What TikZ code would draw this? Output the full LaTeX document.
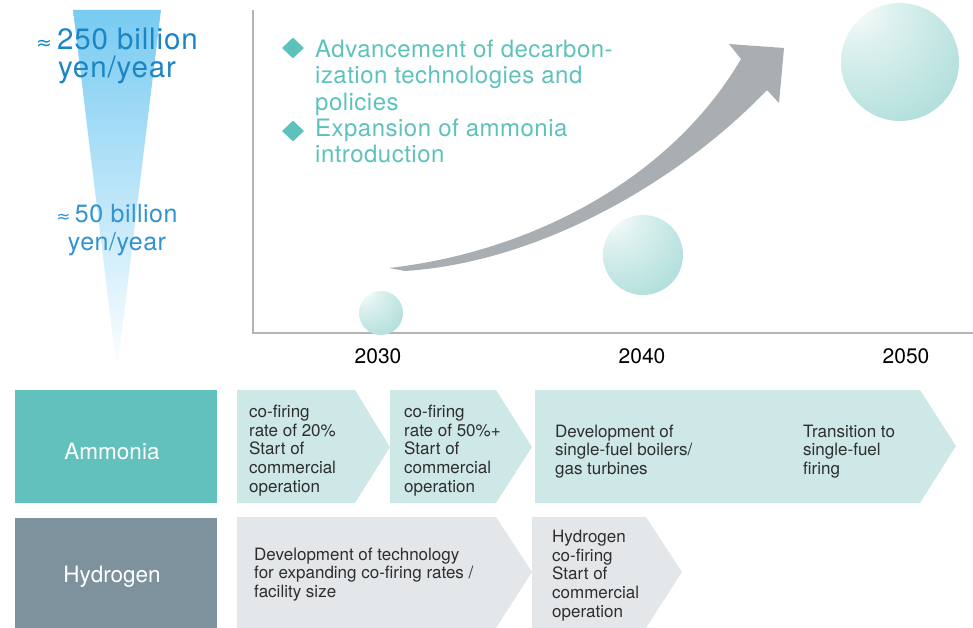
\documentclass[tikz,border=0pt]{standalone}
\usepackage{fontspec}
\setmainfont{TeX Gyre Heros}
\newfontfamily\symfont{DejaVu Sans}
\usetikzlibrary{shapes.geometric}

\definecolor{triTop}{HTML}{78CBF2}
\definecolor{blueDark}{HTML}{1B85C5}
\definecolor{blueMid}{HTML}{3193CF}
\definecolor{tealText}{HTML}{5EC2BC}
\definecolor{tealBox}{HTML}{62C1BD}
\definecolor{tealLight}{HTML}{CDE8E6}
\definecolor{grayBox}{HTML}{7D929D}
\definecolor{grayLight}{HTML}{E3E7E9}
\definecolor{arrowGray}{HTML}{A8AEB2}
\definecolor{axisGray}{HTML}{B4B4B4}
\definecolor{txtGray}{HTML}{2E2E2E}
\definecolor{sphHi}{HTML}{DDF1EF}
\definecolor{sphMid}{HTML}{ACDDD9}
\definecolor{sphEdge}{HTML}{7CCBC6}

% glossy teal sphere, highlight towards the upper left
\pgfdeclareradialshading{bubble}{\pgfpoint{-22bp}{27bp}}{%
  color(0bp)=(white); color(16bp)=(sphHi);
  color(48bp)=(sphMid); color(85bp)=(sphEdge); color(100bp)=(sphEdge)}

\begin{document}
\begin{tikzpicture}[x=1pt,y=-1pt,
  % multi-line nodes: the base anchor sits on the last line
  chevtext/.style={anchor=base west, align=left, inner sep=0pt,
    text=txtGray, font=\fontsize{17}{18.7}\selectfont},
  rowlabel/.style={anchor=base, inner sep=0pt, text=white,
    font=\fontsize{22.5}{24}\selectfont},
  yearlabel/.style={anchor=base, inner sep=0pt, text=black,
    font=\fontsize{21}{22}\selectfont},
  bullettext/.style={anchor=base west, align=left, inner sep=0pt,
    text=tealText, font=\fontsize{24}{26.5}\selectfont\addfontfeature{LetterSpace=2}},
  bulletmark/.style={diamond, fill=tealText, minimum width=22pt,
    minimum height=21pt, inner sep=0pt},
  sphere/.style={shading=bubble}
]
\useasboundingbox (0,0) rectangle (973,628);

% cost wedge
\shade[top color=triTop, bottom color=white] (73,10) -- (161,10) -- (117,372) -- cycle;

\node[anchor=base, align=center, inner sep=0pt, text=blueDark,
      font=\fontsize{29.5}{27.5}\selectfont\addfontfeature{LetterSpace=3}] (cost250) at (117,77.5)
  {{\symfont\fontsize{19}{19}\selectfont ≈}\,250 billion\\yen/year};
\node[anchor=base, align=center, inner sep=0pt, text=blueMid,
      font=\fontsize{25}{28}\selectfont\addfontfeature{LetterSpace=2}] (cost50) at (117,250)
  {{\symfont\fontsize{17}{17}\selectfont ≈}\,50 billion\\yen/year};

% axes
\draw[axisGray, line width=1.5pt] (253,10) -- (253,333) -- (973,333);

% growth spheres
\shade[sphere] (381,313) circle[radius=22];
\shade[sphere] (643,255) circle[radius=40];
\shade[sphere] (900,62) circle[radius=59];

% sweeping growth arrow
\fill[arrowGray] (389,268) .. controls (530,252) and (670,180) .. (741,59)
  -- (729,44) -- (784,48) -- (779,103) -- (767,90)
  .. controls (685,176) and (545,262) .. (405,271) -- cycle;

% bullet list
\node[bulletmark] (d1) at (293,48) {};
\node[bullettext] (b1) at (315,110.5) {Advancement of decarbon-\\ization technologies and\\policies};
\node[bulletmark] (d2) at (293,131) {};
\node[bullettext] (b2) at (315,163) {Expansion of ammonia\\introduction};

% years
\node[yearlabel] (y2030) at (378,363) {2030};
\node[yearlabel] (y2040) at (642,363) {2040};
\node[yearlabel] (y2050) at (906,363) {2050};

% row headers
\fill[tealBox] (15,390) rectangle (217,503);
\node[rowlabel] (ammonia) at (112,459) {Ammonia};
\fill[grayBox] (15,518) rectangle (217,628);
\node[rowlabel] (hydrogen) at (112,582) {Hydrogen};

% ammonia milestones
\fill[tealLight] (237,390) -- (355,390) -- (390,447) -- (355,503) -- (237,503) -- cycle;
\fill[tealLight] (390,390) -- (496,390) -- (532,447) -- (496,503) -- (390,503) -- cycle;
\fill[tealLight] (535,390) -- (920,390) -- (956,446) -- (920,503) -- (535,503) -- cycle;
\node[chevtext] (a1) at (249,492.3) {co-firing\\rate of 20\%\\Start of\\commercial\\operation};
\node[chevtext] (a2) at (404,492.3) {co-firing\\rate of 50\%+\\Start of\\commercial\\operation};
\node[chevtext] (a3) at (555,474.4) {Development of\\single-fuel boilers/\\gas turbines};
\node[chevtext] (a4) at (803,474.4) {Transition to\\single-fuel\\firing};

% hydrogen milestones
\fill[grayLight] (237,517) -- (496,517) -- (532,572) -- (496,628) -- (237,628) -- cycle;
\fill[grayLight] (532,517) -- (646,517) -- (682,572) -- (646,628) -- (532,628) -- cycle;
\node[chevtext] (h1) at (254,597.4) {Development of technology\\for expanding co-firing rates /\\facility size};
\node[chevtext] (h2) at (552,617.3) {Hydrogen\\co-firing\\Start of\\commercial\\operation};
\end{tikzpicture}
\end{document}
